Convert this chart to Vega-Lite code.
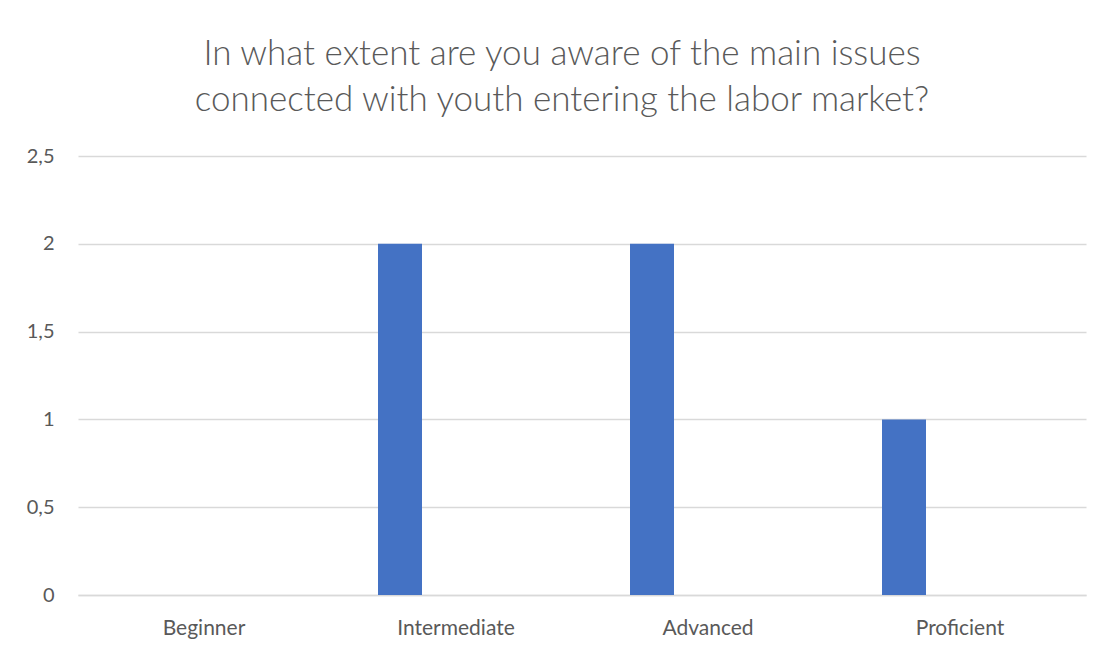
{
  "$schema": "https://vega.github.io/schema/vega-lite/v6.json",
  "autosize": "none",
  "width": 1008,
  "height": 439,
  "padding": {"left": 78, "top": 156, "right": 21, "bottom": 53},
  "background": "white",
  "config": {"view": {"stroke": null}, "font": "Lato"},
  "title": {
    "text": ["In what extent are you aware of the main issues", "connected with youth entering the labor market?"],
    "font": "Lato",
    "fontSize": 35,
    "fontWeight": 300,
    "color": "#595959",
    "lineHeight": 46,
    "anchor": "middle",
    "dx": -20,
    "offset": 28
  },
  "data": {
    "values": [
      {"level": "Beginner", "count": 0},
      {"level": "Intermediate", "count": 2},
      {"level": "Advanced", "count": 2},
      {"level": "Proficient", "count": 1}
    ]
  },
  "mark": {"type": "bar", "size": 44, "color": "#4472C4", "xOffset": -56},
  "encoding": {
    "x": {
      "field": "level",
      "type": "nominal",
      "sort": ["Beginner", "Intermediate", "Advanced", "Proficient"],
      "scale": {"paddingInner": 0, "paddingOuter": 0},
      "axis": {
        "title": null,
        "labelAngle": 0,
        "labelFont": "Lato",
        "labelFontSize": 21,
        "labelColor": "#595959",
        "ticks": false,
        "domainColor": "#d9d9d9",
        "domainWidth": 1.5,
        "labelPadding": 22
      }
    },
    "y": {
      "field": "count",
      "type": "quantitative",
      "scale": {"domain": [0, 2.5]},
      "axis": {
        "title": null,
        "values": [0, 0.5, 1, 1.5, 2, 2.5],
        "labelExpr": "replace(format(datum.value, '.1~f'), '.', ',')",
        "labelFont": "Lato",
        "labelFontSize": 20,
        "labelColor": "#595959",
        "ticks": false,
        "domain": false,
        "gridColor": "#d9d9d9",
        "gridWidth": 1.5,
        "labelPadding": 24
      }
    }
  }
}
